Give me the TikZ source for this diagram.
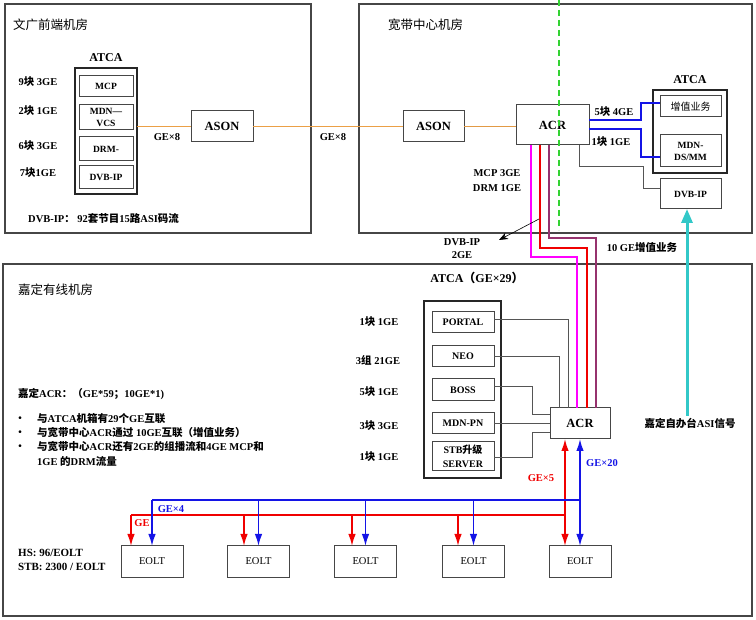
\documentclass[tikz,border=0pt]{standalone}
\usepackage{fontspec}
\setmainfont{Liberation Serif}
\newfontfamily\cjk{Noto Sans CJK SC}
\newcommand{\zh}[1]{{\cjk #1}}
\usetikzlibrary{arrows.meta}
\definecolor{orangeL}{RGB}{235,160,70}
\definecolor{greenD}{RGB}{50,210,50}
\definecolor{magL}{RGB}{255,0,255}
\definecolor{redL}{RGB}{240,0,0}
\definecolor{purpL}{RGB}{150,50,110}
\definecolor{blueL}{RGB}{20,20,230}
\definecolor{cyanL}{RGB}{50,200,200}
\definecolor{grayL}{RGB}{85,85,85}
\definecolor{frameC}{RGB}{70,70,70}
\tikzset{
  box/.style={draw=frameC, line width=1pt, inner sep=0pt, outer sep=0pt, align=center, font=\bfseries\fontsize{9.5}{12}\selectfont},
  atcabox/.style={draw=black!85, line width=1.5pt, inner sep=0pt, outer sep=0pt},
  frame/.style={draw=frameC, line width=1.3pt},
  lbl/.style={font=\bfseries\fontsize{10.5}{14}\selectfont, inner sep=0pt, align=center},
  note/.style={font=\bfseries\fontsize{10.5}{12}\selectfont, inner sep=0pt, anchor=west},
  roomtitle/.style={font=\cjk\fontsize{12.5}{14}\selectfont, anchor=west, inner sep=0pt},
  conn/.style={draw=grayL, line width=0.9pt},
  fat/.style={line width=2.6pt},
  dist/.style={line width=1.6pt},
  arr/.style={-{Latex[length=12pt,width=7.5pt]}},
  biarr/.style={{Latex[length=12pt,width=7.5pt]}-{Latex[length=12pt,width=7.5pt]}},
}
\begin{document}
\begin{tikzpicture}[x=1pt,y=-1pt]
\useasboundingbox (0,0) rectangle (756,620);
% frames
\draw[frame] (5,4) rectangle (311,233);
\draw[frame] (359,4) rectangle (752,233);
\draw[frame] (3,264) rectangle (752,616);
% ---------- top-left room ----------
\node[roomtitle] (tA) at (13,25) {文广前端机房};
\node[lbl, font=\bfseries\fontsize{12}{14}\selectfont] (atcaLt) at (106,58) {ATCA};
\node[atcabox, minimum width=62pt, minimum height=126pt] (atcaL) at (106,131) {};
\node[box, minimum width=54pt, minimum height=21pt] (mcp) at (106,86.5) {MCP};
\node[box, minimum width=54pt, minimum height=25pt, font=\bfseries\fontsize{9.5}{11.5}\selectfont] (mdnvcs) at (106,117.5) {MDN—\\VCS};
\node[box, minimum width=54pt, minimum height=24pt] (drm) at (106,149) {DRM-};
\node[box, minimum width=54pt, minimum height=23pt] (dvbipL) at (106,177.5) {DVB-IP};
\node[lbl] (la1) at (38,82) {9\zh{块} 3GE};
\node[lbl] (la2) at (38,111) {2\zh{块} 1GE};
\node[lbl] (la3) at (38,146) {6\zh{块} 3GE};
\node[lbl] (la4) at (38,173) {7\zh{块}1GE};
\node[box, font=\bfseries\fontsize{12.5}{14}\selectfont, minimum width=62pt, minimum height=31pt] (asonL) at (222,126.5) {ASON};
\node[lbl] (ge8a) at (167,137) {GE×8};
\node[lbl] (ge8b) at (333,137) {GE×8};
\node[note] (dvbnote) at (28,219) {DVB-IP\zh{：} 92\zh{套节目}15\zh{路}ASI\zh{码流}};
% ---------- top-right room ----------
\node[roomtitle] (tB) at (388,25) {宽带中心机房};
\node[box, font=\bfseries\fontsize{12.5}{14}\selectfont, minimum width=61pt, minimum height=31pt] (asonR) at (433.5,126.5) {ASON};
\node[box, font=\bfseries\fontsize{12.5}{14}\selectfont, minimum width=73pt, minimum height=40pt] (acrT) at (552.5,125) {ACR};
\node[lbl, font=\bfseries\fontsize{12}{14}\selectfont] (atcaRt) at (690,80) {ATCA};
\node[atcabox, minimum width=74pt, minimum height=83pt] (atcaR) at (690,131.5) {};
\node[box, minimum width=61pt, minimum height=21pt, font=\cjk\fontsize{10}{12}\selectfont] (zz) at (690.5,106.5) {增值业务};
\node[box, minimum width=61pt, minimum height=32pt, font=\bfseries\fontsize{9.5}{12}\selectfont] (mdnds) at (690.5,151) {MDN-\\DS/MM};
\node[box, minimum width=61pt, minimum height=30pt] (dvbipR) at (690.5,194) {DVB-IP};
\node[lbl] (l5k) at (614,112) {5\zh{块} 4GE};
\node[lbl] (l1k) at (611,142) {1\zh{块} 1GE};
\node[lbl, font=\bfseries\fontsize{10.5}{15}\selectfont] (mcpdrm) at (497,180.5) {MCP 3GE\\DRM 1GE};
\node[lbl, font=\bfseries\fontsize{10.5}{13.5}\selectfont] (dvb2ge) at (462,248.5) {DVB-IP\\2GE};
\node[lbl] (tenge) at (642,247) {10 GE\zh{增值业务}};
% green dashed line
\coordinate (gtop) at (559,0);
\coordinate (gbot) at (559,230);
\draw[greenD, line width=1.3pt, dash pattern=on 6pt off 4pt] (gtop) -- (gbot);
% orange links
\draw[orangeL, line width=1.3pt] (atcaL.east |- asonL.west) -- (asonL.west);
\draw[orangeL, line width=1.3pt] (asonL.east) -- (asonR.west);
\draw[orangeL!80!brown, line width=1.3pt] (asonR.east) -- (acrT.west |- asonR.east);
% blue links to ATCA
\draw[blueL, line width=1.4pt] (acrT.east |- 0,120) -| (641,103) -- (zz.west |- 0,103);
\draw[blueL, line width=1.4pt] (acrT.east |- 0,129) -| (641,157) -- (mdnds.west |- 0,157);
% gray link to DVB-IP
\draw[conn] ([xshift=26.5pt]acrT.south) |- (643,166) |- (dvbipR.west |- 0,188);
% ---------- bottom room ----------
\node[roomtitle] (tC) at (18,290) {嘉定有线机房};
\node[lbl, font=\bfseries\fontsize{12}{14}\selectfont] (atcaBt) at (477,278) {ATCA\zh{（}GE×29\zh{）}};
\node[atcabox, minimum width=77pt, minimum height=177pt] (atcaB) at (462.5,389.5) {};
\node[box, minimum width=62pt, minimum height=21pt, font=\bfseries\fontsize{10}{12}\selectfont] (portal) at (463,322.5) {PORTAL};
\node[box, minimum width=62pt, minimum height=21pt, font=\bfseries\fontsize{10}{12}\selectfont] (neo) at (463,356.5) {NEO};
\node[box, minimum width=62pt, minimum height=22pt, font=\bfseries\fontsize{10}{12}\selectfont] (boss) at (463,390) {BOSS};
\node[box, minimum width=62pt, minimum height=21pt, font=\bfseries\fontsize{10}{12}\selectfont] (mdnpn) at (463,423.5) {MDN-PN};
\node[box, minimum width=62pt, minimum height=29pt, font=\bfseries\fontsize{10}{13.5}\selectfont] (stb) at (463,456.5) {STB\zh{升级}\\SERVER};
\node[lbl] (lb1) at (379,322) {1\zh{块} 1GE};
\node[lbl] (lb2) at (378,360) {3\zh{组} 21GE};
\node[lbl] (lb3) at (379,392) {5\zh{块} 1GE};
\node[lbl] (lb4) at (379,426) {3\zh{块} 3GE};
\node[lbl] (lb5) at (379,457) {1\zh{块} 1GE};
\node[box, font=\bfseries\fontsize{12.5}{14}\selectfont, minimum width=60pt, minimum height=31pt] (acrB) at (580,423.5) {ACR};
% gray links ATCA -> ACR
\draw[conn] (portal.east |- 0,319) -| ([xshift=-12pt]acrB.north);
\draw[conn] (neo.east |- 0,356) -| ([xshift=-21pt]acrB.north);
\draw[conn] (boss.east |- 0,386) -| (532,414) -- (acrB.west |- 0,414);
\draw[conn] (mdnpn.east |- 0,423) -- (acrB.west |- 0,423);
\draw[conn] (stb.east |- 0,457) -| (532,432) -- (acrB.west |- 0,432);
% colored trunks between ACRs
\draw[magL, fat] ([xshift=-21.5pt]acrT.south) |- (577,257) -- ([xshift=-3pt]acrB.north);
\draw[redL, fat] ([xshift=-12.5pt]acrT.south) |- (587,248) -- ([xshift=7pt]acrB.north);
\draw[purpL, fat] ([xshift=-3.5pt]acrT.south) |- (596,238) -- ([xshift=16pt]acrB.north);
% DVB-IP annotation arrow
\coordinate (dvbA) at (539,219);
\coordinate (dvbB) at (499,240);
\draw[black, line width=0.6pt, -{Stealth[length=9pt,width=7pt]}] (dvbA) -- (dvbB);
% ASI signal
\node[lbl] (asi) at (690,423) {\zh{嘉定自办台}ASI\zh{信号}};
\draw[cyanL, line width=3pt, -{Triangle[length=14pt,width=11pt]}] ([xshift=-3pt,yshift=2pt]asi.north) -- ([xshift=-3pt]asi.north |- dvbipR.south);
% left notes
\node[note] (acrnote) at (18,394) {\zh{嘉定}ACR\zh{：（}GE*59\zh{；}10GE*1)};
\node[lbl, font=\bfseries\fontsize{10}{12}\selectfont] (b1) at (20,419) {•};
\node[lbl, font=\bfseries\fontsize{10}{12}\selectfont] (b2) at (20,433) {•};
\node[lbl, font=\bfseries\fontsize{10}{12}\selectfont] (b3) at (20,447) {•};
\node[note] (n1) at (37,419) {\zh{与}ATCA\zh{机箱有}29\zh{个}GE\zh{互联}};
\node[note] (n2) at (37,433) {\zh{与宽带中心}ACR\zh{通过} 10GE\zh{互联（增值业务）}};
\node[note] (n3) at (37,447) {\zh{与宽带中心}ACR\zh{还有}2GE\zh{的组播流和}4GE MCP\zh{和}};
\node[note] (n4) at (37,461) {1GE \zh{的}DRM\zh{流量}};
\node[note, font=\bfseries\fontsize{11}{14}\selectfont] (hs) at (18,553) {HS: 96/EOLT};
\node[note, font=\bfseries\fontsize{11}{14}\selectfont] (stbn) at (18,567) {STB: 2300 / EOLT};
% EOLT boxes
\foreach \i/\x in {1/152,2/258.5,3/365.5,4/473.5,5/580}{
  \node[box, font=\fontsize{10.5}{12}\selectfont, minimum width=62pt, minimum height=31pt] (eolt\i) at (\x,561.5) {EOLT};
}
% red / blue distribution
\node[lbl, text=redL] (ge5) at (541,478) {GE×5};
\node[lbl, text=blueL] (ge20) at (602,463) {GE×20};
\node[lbl, text=blueL] (ge4) at (171,509) {GE×4};
\node[lbl, text=redL] (ge1) at (142,523) {GE};
\draw[blueL, dist, biarr] (acrB.south) -- (eolt5.north);
\draw[redL, dist, biarr] ([xshift=-15pt]acrB.south) -- ([xshift=-15pt]eolt5.north);
\coordinate (bR) at (580,500);
\coordinate (bL) at (152,500);
\coordinate (rR) at (565,515);
\coordinate (rL) at (131,515);
\draw[blueL, dist] (bR) -- (bL);
\draw[redL, dist] (rR) -- (rL);
\draw[blueL, dist, arr] (bL) -- (eolt1.north);
\draw[blueL, dist, arr] (eolt2.north |- bR) -- (eolt2.north);
\draw[blueL, dist, arr] (eolt3.north |- bR) -- (eolt3.north);
\draw[blueL, dist, arr] (eolt4.north |- bR) -- (eolt4.north);
\draw[redL, dist, arr] (rL) -- ([xshift=-21pt]eolt1.north);
\draw[redL, dist, arr] ([xshift=-14.5pt]eolt2.north |- rR) -- ([xshift=-14.5pt]eolt2.north);
\draw[redL, dist, arr] ([xshift=-13.5pt]eolt3.north |- rR) -- ([xshift=-13.5pt]eolt3.north);
\draw[redL, dist, arr] ([xshift=-15.5pt]eolt4.north |- rR) -- ([xshift=-15.5pt]eolt4.north);
\end{tikzpicture}
\end{document}
